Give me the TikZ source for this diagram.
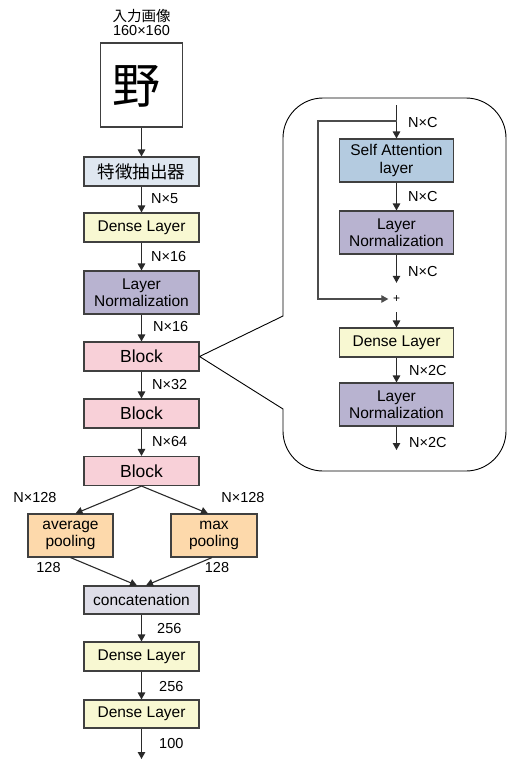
\documentclass[tikz,border=0pt]{standalone}
\usepackage{fontspec}
\setmainfont{Liberation Sans}
\newfontfamily\cjk{Noto Sans CJK JP}
\usetikzlibrary{arrows.meta,calc}
\definecolor{featc}{HTML}{DFE7F0}
\definecolor{densec}{HTML}{F8F8D2}
\definecolor{lnc}{HTML}{B8B3D0}
\definecolor{blockc}{HTML}{F8D0D8}
\definecolor{poolc}{HTML}{FDD9AB}
\definecolor{concc}{HTML}{DEDDE8}
\definecolor{sac}{HTML}{B4CBE0}
\definecolor{boxline}{HTML}{404040}
\definecolor{arrc}{HTML}{2A2A2A}
\tikzset{
  box/.style={draw=boxline, line width=1.1pt, align=center, inner sep=0pt,
    minimum width=115pt, font=\fontsize{15.5}{17.5}\selectfont},
  lbl/.style={font=\fontsize{14.5}{17}\selectfont, inner sep=0pt, anchor=west},
  clbl/.style={font=\fontsize{14.5}{17}\selectfont, inner sep=0pt},
  arr/.style={draw=arrc, line width=1.1pt, -{Triangle[length=7pt,width=7.5pt]}},
  skipline/.style={draw=black!70, line width=1.1pt, -{Triangle[length=7pt,width=7.5pt]}},
  callout/.style={draw=black, line width=0.9pt},
}
\begin{document}
\begin{tikzpicture}[x=1pt,y=-1pt]
\useasboundingbox (0,0) rectangle (508,760);
% left column
\node[clbl, font=\cjk\fontsize{14.5}{17}\selectfont] (t1) at (141.5,16) {入力画像};
\node[clbl] (t2) at (141.5,31) {160×160};
\node[draw=boxline, line width=1.1pt, minimum width=82pt, minimum height=84pt, inner sep=0pt] (img) at (141.5,85) {};
\node[inner sep=0pt, font=\cjk\fontsize{48}{48}\selectfont] (kanji) at (136,86) {野};
\node[box, fill=featc, minimum height=29pt, font=\cjk\fontsize{17.5}{20}\selectfont] (feat) at (141.5,171.5) {特徴抽出器};
\node[box, fill=densec, minimum height=29pt] (dense1) at (141.5,227.5) {Dense Layer};
\node[box, fill=lnc, minimum height=43pt] (ln1) at (141.5,292.5) {Layer\\Normalization};
\node[box, fill=blockc, minimum height=29pt, font=\fontsize{17.5}{20}\selectfont] (block1) at (141.5,356.5) {Block};
\node[box, fill=blockc, minimum height=29pt, font=\fontsize{17.5}{20}\selectfont] (block2) at (141.5,413.5) {Block};
\node[box, fill=blockc, minimum height=29pt, font=\fontsize{17.5}{20}\selectfont] (block3) at (141.5,471) {Block};
\node[box, fill=poolc, minimum width=85pt, minimum height=43pt] (avg) at (70.5,535.5) {average\\pooling};
\node[box, fill=poolc, minimum width=86pt, minimum height=43pt] (max) at (214,535.5) {max\\pooling};
\node[box, fill=concc, minimum height=28pt] (concat) at (141.5,600) {concatenation};
\node[box, fill=densec, minimum height=29pt] (dense2) at (141.5,656.5) {Dense Layer};
\node[box, fill=densec, minimum height=28pt] (dense3) at (141.5,714) {Dense Layer};
\coordinate (endl) at (141.5,759);
% labels
\node[lbl] (l1) at (151,199) {N×5};
\node[lbl] (l2) at (151,257) {N×16};
\node[lbl] (l3) at (153,327) {N×16};
\node[lbl] (l4) at (152,385) {N×32};
\node[lbl] (l5) at (152,442) {N×64};
\node[clbl] (l6) at (35,498) {N×128};
\node[clbl] (l7) at (243,498) {N×128};
\node[clbl] (l8) at (48.5,568) {128};
\node[clbl] (l9) at (217,568) {128};
\node[lbl] (l10) at (157,629) {256};
\node[lbl] (l11) at (159,687) {256};
\node[lbl] (l12) at (159,743) {100};
% arrows left
\draw[arr] (img.south) -- (feat.north);
\draw[arr] (feat.south) -- (dense1.north);
\draw[arr] (dense1.south) -- (ln1.north);
\draw[arr] (ln1.south) -- (block1.north);
\draw[arr] (block1.south) -- (block2.north);
\draw[arr] (block2.south) -- (block3.north);
\draw[arr] (block3.south) -- ($(avg.north)+(5,0)$);
\draw[arr] (block3.south) -- ($(max.north)+(-6,0)$);
\draw[arr] (avg.south) -- ($(concat.north)+(-4.5,0)$);
\draw[arr] ($(max.south)+(-2,0)$) -- ($(concat.north)+(4.5,0)$);
\draw[arr] (concat.south) -- (dense2.north);
\draw[arr] (dense2.south) -- (dense3.north);
\draw[arr] (dense3.south) -- (endl);
% right panel
\coordinate (rin) at (396.5,105);
\coordinate (skip) at (396.5,121);
\node[box, fill=sac, minimum width=114pt, minimum height=43pt] (sa) at (396.5,160.5) {Self Attention\\layer};
\node[box, fill=lnc, minimum width=114pt, minimum height=43pt] (ln2) at (396.5,232.5) {Layer\\Normalization};
\node[minimum width=16pt, minimum height=32pt, inner sep=0pt, font=\fontsize{12}{12}\selectfont] (plus) at (396.5,299) {+};
\node[box, fill=densec, minimum width=114pt, minimum height=29pt] (dr) at (396.5,342.5) {Dense Layer};
\node[box, fill=lnc, minimum width=114pt, minimum height=43pt] (ln3) at (396.5,404.5) {Layer\\Normalization};
\coordinate (rout) at (396.5,450);
\node[lbl] (r1) at (408,123) {N×C};
\node[lbl] (r2) at (408,197) {N×C};
\node[lbl] (r3) at (408,272) {N×C};
\node[lbl] (r4) at (409,371) {N×2C};
\node[lbl] (r5) at (409,443) {N×2C};
\draw[arr] (rin) -- (sa.north);
\draw[arr] (sa.south) -- (ln2.north);
\draw[arr] (ln2.south) -- (plus.north);
\draw[skipline] (skip) -- (318,121) |- (plus.west);
\draw[arr] ($(plus.south)+(0,-3)$) -- (dr.north);
\draw[arr] (dr.south) -- (ln3.north);
\draw[arr] (ln3.south) -- (rout);
% callout
\draw[callout] (block1.east) -- (283,316) -- (283,138) .. controls (283,116) and (301,98) .. (323,98)
  -- (466,98) .. controls (488,98) and (506,116) .. (506,138)
  -- (506,431) .. controls (506,453) and (488,471) .. (466,471)
  -- (323,471) .. controls (301,471) and (283,453) .. (283,431)
  -- (283,409) -- (block1.east);
\end{tikzpicture}
\end{document}
